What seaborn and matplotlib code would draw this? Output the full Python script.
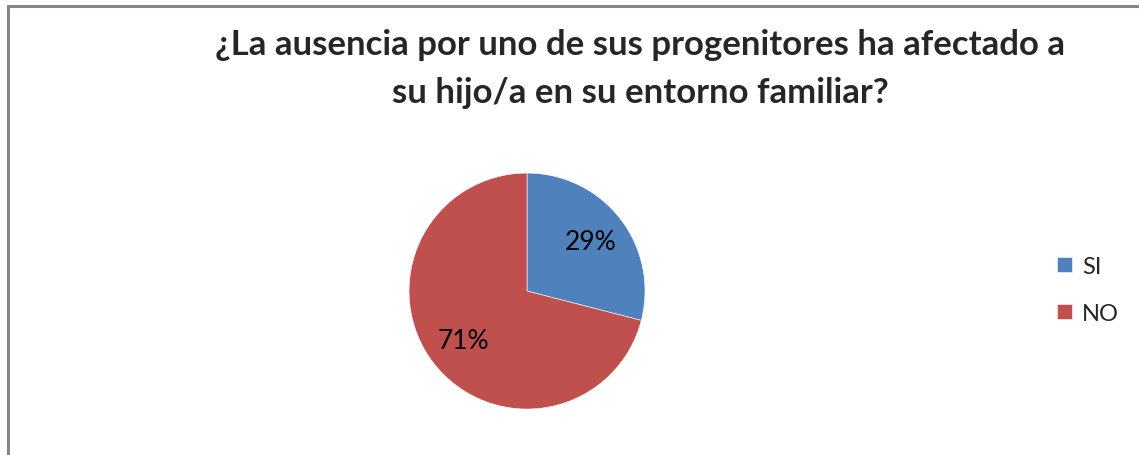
import matplotlib
matplotlib.use("Agg")
import matplotlib.pyplot as plt
import seaborn as sns
from matplotlib.patches import Rectangle

categories = ["SI", "NO"]
values = [29, 71]
colors = ["#4F81BD", "#C0504D"]
title = "¿La ausencia por uno de sus progenitores ha afectado a\nsu hijo/a en su entorno familiar?"

sns.set_theme(style="white")
plt.rcParams['font.family'] = ['Lato', 'DejaVu Sans']

fig = plt.figure(figsize=(11.39, 4.56), dpi=100)
fig.patch.set_facecolor("white")

# frame of the chart area (left and top edges visible)
fig.patches.append(Rectangle((8 / 1139, -0.1), 1.2, 1 - 7 / 456 + 0.1,
                             transform=fig.transFigure, fill=False,
                             edgecolor="#878787", linewidth=2.2))

ax = fig.add_axes([0.3591, 0.1008, 0.2072, 0.5175])
wedges, texts, autotexts = ax.pie(values, colors=colors, startangle=90,
                                  counterclock=False, autopct="%d%%",
                                  pctdistance=0.68, radius=1,
                                  wedgeprops=dict(edgecolor="white", linewidth=0.4),
                                  textprops=dict(fontsize=19, color="black"))
ax.set_xlim(-1, 1)
ax.set_ylim(-1, 1)
ax.set_aspect("equal")
ax.axis("off")

fig.text(640 / 1139, 1 - 69 / 456, title, ha="center", va="center",
         fontsize=25, fontweight="bold", linespacing=1.58)

fig.legend(wedges, categories, loc="center left",
           bbox_to_anchor=(1048 / 1139, 1 - 291 / 456),
           frameon=False, fontsize=17, handlelength=0.6, handleheight=0.6,
           handletextpad=0.45, labelspacing=1.08, borderaxespad=0)

fig.savefig("out.png", dpi=100)
